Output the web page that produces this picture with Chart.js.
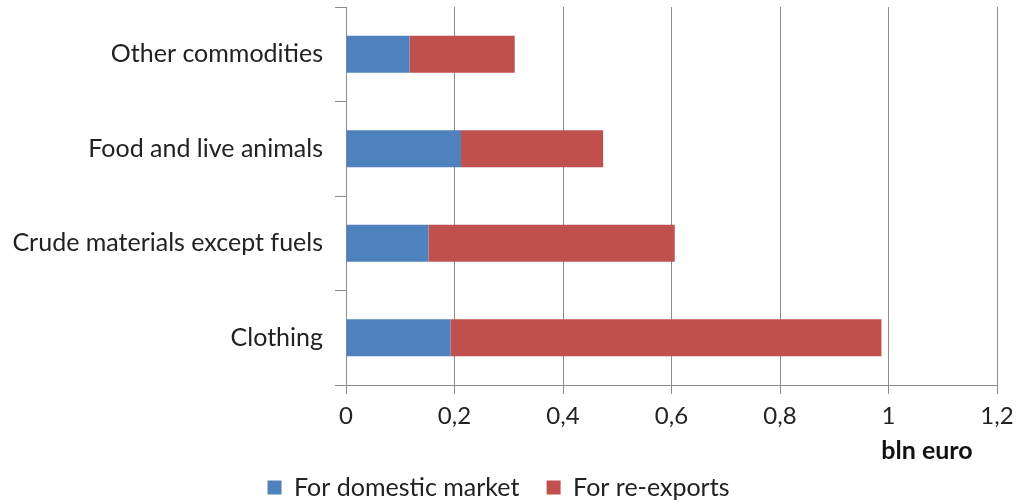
<!DOCTYPE html>
<html>
<head>
<meta charset="utf-8">
<script src="https://cdn.jsdelivr.net/npm/chart.js@4"></script>
<style>
  html, body { margin: 0; padding: 0; background: #fff; }
  #wrap { width: 1016px; height: 502px; }
</style>
</head>
<body>
<div id="wrap"><canvas id="tradeChart" width="1016" height="502"></canvas></div>
<script>
var categories = ['Other commodities', 'Food and live animals', 'Crude materials except fuels', 'Clothing'];
var domesticMarket = [0.117, 0.212, 0.152, 0.193];
var reExports = [0.194, 0.262, 0.454, 0.794];
var xTicks = [0, 0.2, 0.4, 0.6, 0.8, 1, 1.2];

var gridGray = '#8c8c8c';
var textFont = "Lato, 'Open Sans', sans-serif";

var ctx = document.getElementById('tradeChart').getContext('2d');

var tradeChart = new Chart(ctx, {
  type: 'bar',
  data: {
    labels: categories,
    datasets: [{
      label: 'For domestic market',
      data: domesticMarket,
      backgroundColor: '#4f81bd',
      barPercentage: 0.39,
      categoryPercentage: 1
    }, {
      label: 'For re-exports',
      data: reExports,
      backgroundColor: '#c0504d',
      barPercentage: 0.39,
      categoryPercentage: 1
    }]
  },
  options: {
    indexAxis: 'y',
    responsive: false,
    animation: false,
    layout: { padding: { top: 7, right: 19, left: 0, bottom: -8 } },
    plugins: {
      tooltip: { enabled: false },
      legend: {
        position: 'bottom',
        labels: {
          boxWidth: 14,
          boxHeight: 14,
          padding: 8,
          color: '#222',
          font: { family: textFont, size: 25 },
          generateLabels: function (chart) {
            var items = Chart.defaults.plugins.legend.labels.generateLabels(chart);
            // extra room between the two legend entries
            items[0].text += '   ';
            return items;
          }
        }
      }
    },
    scales: {
      x: {
        stacked: true,
        min: 0,
        max: 1.2,
        afterBuildTicks: function (scale) {
          scale.ticks = xTicks.map(v => ({ value: v }));
        },
        ticks: {
          color: '#222',
          padding: 8,
          font: { family: textFont, size: 24 },
          callback: function (v) { return String(v).replace('.', ','); }
        },
        grid: { color: gridGray, tickLength: 9 },
        border: { color: gridGray },
        title: {
          display: true,
          text: 'bln euro    ',
          align: 'end',
          color: '#111',
          padding: { top: 0, bottom: 1 },
          font: { family: textFont, size: 25, weight: 'bold' }
        },
        afterFit: function (scale) {
          scale.height = 82;
          scale.paddingLeft = 0;
          scale.paddingRight = 0;
        }
      },
      y: {
        stacked: true,
        ticks: {
          color: '#222',
          padding: 12,
          font: { family: textFont, size: 25 }
        },
        grid: { offset: true, drawOnChartArea: false, color: gridGray, tickLength: 11 },
        border: { color: gridGray },
        afterFit: function (scale) {
          scale.width = 346;
          scale.paddingTop = 0;
          scale.paddingBottom = 0;
        }
      }
    }
  }
});
</script>
</body>
</html>
